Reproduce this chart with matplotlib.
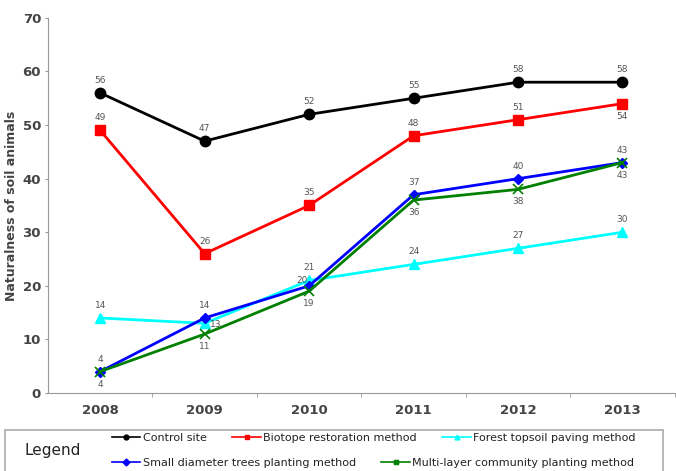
import matplotlib.pyplot as plt
from matplotlib.lines import Line2D
from matplotlib.patches import Rectangle

years = ["2008", "2009", "2010", "2011", "2012", "2013"]
control = [56, 47, 52, 55, 58, 58]
biotope = [49, 26, 35, 48, 51, 54]
topsoil = [14, 13, 21, 24, 27, 30]
small_trees = [4, 14, 20, 37, 40, 43]
multi_layer = [4, 11, 19, 36, 38, 43]

names = ["Control site", "Biotope restoration method", "Forest topsoil paving method",
         "Small diameter trees planting method", "Multi-layer community planting method"]

plt.rcParams['font.family'] = ['DejaVu Sans']
txt = "#444444"

fig = plt.figure(figsize=(6.76, 4.71), dpi=100)
ax = fig.add_axes([0.071, 0.1656, 0.927, 0.7964])
x = list(range(len(years)))

ax.plot(x, control, color="black", lw=2, marker="o", ms=7.5)
ax.plot(x, biotope, color="red", lw=2, marker="s", ms=7.5)
ax.plot(x, topsoil, color="cyan", lw=2, marker="^", ms=7.5)
ax.plot(x, small_trees, color="blue", lw=2, marker="D", ms=5.5)
ax.plot(x, multi_layer, color="green", lw=2, marker="x", ms=7.5, mew=1.2)

# value labels
def label(vals, offs):
    for i, v in enumerate(vals):
        dx, dy = offs[i] if isinstance(offs, list) else offs
        ax.annotate(str(v), (i, v), xytext=(dx, dy), textcoords="offset points",
                    ha="center", va="center", fontsize=6.5, color="#555555")

label(control, (0, 9))
label(biotope, [(0, 9)] * 5 + [(0, -9)])
label(topsoil, [(0, 9), (8, -1), (0, 9), (0, 9), (0, 9), (0, 9)])
label(small_trees, [(0, 9), (0, 9), (-5, 4), (0, 9), (0, 9), (0, 9)])
label(multi_layer, (0, -9))

ax.set_xlim(-0.5, 5.5)
ax.set_ylim(0, 70)
ax.set_yticks(range(0, 71, 10))
ax.set_xticks(x)
ax.set_xticklabels(years)
ax.set_xticks([i + 0.5 for i in range(6)], minor=True)
ax.tick_params(axis="x", which="major", length=0, pad=8)
ax.tick_params(axis="x", which="minor", length=3, color="#999999")
ax.tick_params(axis="y", length=2, color="#999999", pad=3)
for lab in ax.get_xticklabels() + ax.get_yticklabels():
    lab.set_fontsize(9.5)
    lab.set_fontweight("bold")
    lab.set_color(txt)
ax.set_ylabel("Naturalness of soil animals", fontsize=9, fontweight="bold", color=txt, labelpad=3)
for s in ["top", "right"]:
    ax.spines[s].set_visible(False)
for s in ["left", "bottom"]:
    ax.spines[s].set_color("#999999")

# legend box
fig.patches.append(Rectangle((5 / 676, -0.01), 658 / 676, 46 / 471, transform=fig.transFigure,
                             fill=False, edgecolor="#aaaaaa", lw=1.2))
fig.text(25 / 676, 1 - 450 / 471, "Legend", fontsize=11, color="#222222", va="center")

styles = [("black", "o"), ("red", "s"), ("cyan", "^"), ("blue", "D"), ("green", "X")]
handles = [Line2D([], [], color=c, marker=m, ms=3.5, lw=1.2) for c, m in styles]
row1 = fig.legend(handles[:3], names[:3], ncol=3, frameon=False, fontsize=8,
                  loc="center left", bbox_to_anchor=(106 / 676, 1 - 438 / 471),
                  handlelength=2.6, handletextpad=0.2, columnspacing=2.3, borderpad=0)
for t in row1.get_texts():
    t.set_color("#222222")
row2 = fig.legend(handles[3:], names[3:], ncol=2, frameon=False, fontsize=8,
                  loc="center left", bbox_to_anchor=(106 / 676, 1 - 463 / 471),
                  handlelength=2.6, handletextpad=0.2, columnspacing=2.3, borderpad=0)
for t in row2.get_texts():
    t.set_color("#222222")

fig.savefig("out.png", dpi=100)
